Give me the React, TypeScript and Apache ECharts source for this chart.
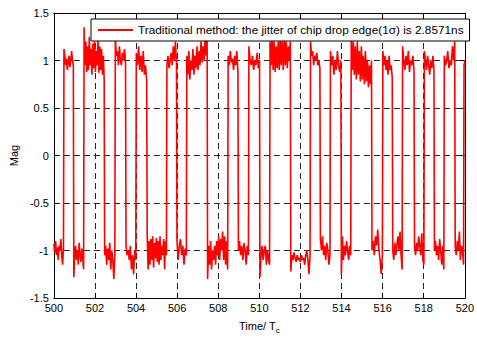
import React, { useEffect, useRef } from "react";
import * as echarts from "echarts";

// Edge times (Tc) between consecutive chip levels
const edges: number[] = [
  500, 500.48, 500.96, 501.46, 502.46, 502.98, 503.5, 504.0, 504.53, 505.49,
  505.98, 506.46, 507.47, 508.47, 508.97, 509.48, 510.02, 510.51, 511.52,
  512.48, 512.96, 513.45, 513.98, 514.46, 515.47, 516.0, 516.48, 516.96,
  517.54, 518.02, 518.51, 518.99, 519.52, 519.95, 520,
];

// Magnitude samples read within each segment (low/high alternating)
const segmentValues: number[][] = [
  [-0.93, -1.02, -0.9, -1.05, -0.97, -1.1, -0.95, -1.0, -0.88, -1.05, -1.15, -0.98],
  [1.12, 1.05, 0.95, 1.02, 0.9, 0.98, 1.05, 0.93, 1.0, 1.1, 1.0, 0.95],
  [-1.28, -1.05, -0.95, -1.1, -1.0, -1.15, -0.92, -1.05, -1.12, -0.98, -1.08, -1.2],
  [1.35, 0.95, 1.2, 0.88, 1.15, 0.9, 1.25, 0.95, 1.12, 0.85, 1.18, 0.92, 1.2, 0.88, 1.1, 0.95, 1.22, 0.87, 1.15, 0.9, 1.12, 0.85, 1.05, 0.82],
  [-1.05, -0.95, -1.15, -0.98, -1.1, -0.92, -1.2, -1.0, -1.1, -1.3, -1.05],
  [1.25, 1.05, 1.1, 0.95, 1.15, 1.0, 0.95, 1.08, 1.0, 1.12, 0.98],
  [-0.95, -1.05, -1.0, -1.1, -0.95, -1.2, -1.05, -1.25, -1.0, -1.1],
  [1.08, 0.95, 1.15, 0.9, 1.05, 0.88, 1.1, 0.85, 0.95, 0.78],
  [-0.82, -1.2, -0.9, -1.15, -0.88, -1.1, -0.85, -1.18, -0.92, -1.08, -0.87, -1.12, -0.9, -1.15, -0.85, -1.1, -0.95, -1.05, -0.88, -1.2, -0.9, -1.05],
  [0.95, 1.05, 0.92, 1.0, 1.08, 0.95, 1.15, 1.0, 1.2, 0.98],
  [-0.9, -1.1, -0.95, -0.88, -1.05, -0.95, -1.15, -0.98, -1.05],
  [1.05, 0.85, 1.1, 0.8, 1.0, 0.9, 1.12, 0.85, 1.05, 0.92, 1.15, 0.9, 1.1, 0.95, 1.2, 0.98, 1.15, 1.0, 1.25, 1.05, 1.3],
  [-1.3, -0.95, -1.15, -0.9, -1.2, -1.0, -1.1, -0.95, -1.15, -0.9, -1.05, -0.85, -1.1, -0.88, -1.0, -0.8, -1.1, -0.85, -1.15, -0.9, -1.2],
  [1.05, 0.95, 1.1, 0.98, 1.02, 0.9, 1.05, 0.95, 1.1, 0.88],
  [-1.0, -0.9, -1.05, -0.95, -1.1, -0.92, -1.0, -1.15, -0.95, -1.05],
  [1.15, 1.0, 0.95, 1.05, 0.9, 1.0, 0.95, 1.08, 0.92, 1.0],
  [-1.28, -1.05, -0.95, -1.1, -1.0, -0.95, -1.15, -1.0, -1.1, -1.15],
  [1.2, 0.95, 1.25, 0.9, 1.2, 0.88, 1.15, 0.92, 1.2, 0.9, 1.25, 0.95, 1.2, 0.9, 1.25, 0.95, 1.2, 0.92, 1.15, 1.0, 1.2],
  [-1.22, -1.05, -1.1, -1.02, -1.08, -1.12, -1.05, -1.1, -1.08, -1.12, -1.05, -1.1, -1.08, -1.15, -1.05, -1.0, -1.1, -1.25, -1.05],
  [1.2, 1.05, 1.1, 0.95, 1.05, 1.0, 1.08, 0.95, 1.0, 0.92],
  [-0.88, -1.0, -0.85, -1.05, -0.95, -1.1, -0.92, -1.0, -1.15, -1.05],
  [1.1, 0.95, 1.05, 0.85, 1.0, 0.9, 1.1, 0.95, 0.88, 1.0],
  [-1.25, -0.85, -1.1, -0.95, -1.05, -0.9, -1.0, -1.1, -0.95, -1.05],
  [1.25, 0.9, 1.2, 0.85, 1.15, 0.8, 1.2, 0.85, 1.1, 0.78, 1.15, 0.8, 1.05, 0.75, 1.1, 0.78, 1.0, 0.72, 0.95, 0.75, 1.0],
  [-1.0, -0.9, -1.05, -0.85, -0.95, -0.78, -1.0, -1.1, -1.25, -1.05],
  [1.1, 0.95, 1.05, 0.9, 1.0, 0.85, 1.05, 0.9, 0.95, 0.82],
  [-1.0, -1.1, -0.92, -1.05, -0.95, -0.85, -1.0, -0.8, -1.05, -1.2],
  [1.15, 1.0, 0.9, 1.05, 0.95, 1.1, 0.88, 1.0, 0.95, 1.05, 0.9],
  [-0.95, -1.05, -0.92, -1.0, -0.85, -0.95, -1.05, -0.82, -1.1, -1.15],
  [1.1, 1.0, 0.9, 1.05, 0.95, 0.85, 1.0, 0.92, 1.05, 0.9],
  [-1.0, -0.9, -1.05, -0.95, -1.1, -0.88, -1.0, -1.15, -0.95, -1.2],
  [1.05, 0.95, 1.0, 1.1, 0.92, 1.0, 0.95, 1.15, 1.0, 1.2],
  [-0.95, -1.05, -0.9, -1.0, -0.8, -1.1, -0.95, -1.0, -1.15],
  [0.95, 1.0],
];

const xTicks = { min: 500, max: 520, interval: 2 };
const yTicks = { min: -1.5, max: 1.5, interval: 0.5 };
const seriesName = "Traditional method: the jitter of chip drop edge(1\u03c3) is 2.8571ns";

function buildData(): [number, number][] {
  const out: [number, number][] = [];
  const pad = 0.012;
  for (let i = 0; i < segmentValues.length; i++) {
    const vals = segmentValues[i];
    const s = edges[i] + (i === 0 ? 0 : pad);
    const e = edges[i + 1] - (i === segmentValues.length - 1 ? 0 : pad);
    const n = vals.length;
    for (let k = 0; k < n; k++) {
      const t = n === 1 ? s : s + ((e - s) * k) / (n - 1);
      out.push([t, vals[k]]);
    }
  }
  return out;
}

const FONT = "Liberation Sans, Arial, sans-serif";

export default function App() {
  const ref = useRef<HTMLDivElement>(null);
  useEffect(() => {
    document.body.style.margin = "0";
    if (!ref.current) return;
    const chart = echarts.init(ref.current, undefined, { renderer: "svg" });
    const axisCommon = {
      type: "value" as const,
      axisLine: { show: true, onZero: false, lineStyle: { color: "#000", width: 1 } },
      axisTick: { show: true, inside: true, length: 5, lineStyle: { color: "#000" } },
    };
    chart.setOption({
      animation: false,
      backgroundColor: "#fff",
      grid: { left: 53, right: 9, top: 13, bottom: 35, containLabel: false },
      legend: {
        data: [seriesName],
        left: 91,
        top: 19,
        orient: "horizontal",
        backgroundColor: "#fff",
        borderColor: "#000",
        borderWidth: 1,
        padding: [5, 6, 5, 7],
        icon: "rect",
        itemWidth: 35,
        itemHeight: 2,
        itemGap: 5,
        textStyle: { fontFamily: FONT, fontSize: 11.8, color: "#000" },
      },
      xAxis: [
        {
          ...axisCommon,
          position: "bottom",
          ...xTicks,
          name: "Time/ T{sub|c}",
          nameLocation: "middle",
          nameGap: 20,
          nameTextStyle: {
            fontFamily: FONT,
            fontSize: 11,
            color: "#000",
            rich: { sub: { fontFamily: FONT, fontSize: 8, color: "#000", verticalAlign: "bottom", padding: [8, 0, 0, 0] } },
          },
          axisLabel: { fontFamily: FONT, fontSize: 11, color: "#000", margin: 4 },
          splitLine: { show: true, lineStyle: { color: "#222", type: [6, 4], width: 1 } },
        },
        {
          ...axisCommon,
          position: "top",
          ...xTicks,
          axisLabel: { show: false },
          splitLine: { show: false },
        },
      ],
      yAxis: [
        {
          ...axisCommon,
          position: "left",
          ...yTicks,
          name: "Mag",
          nameLocation: "middle",
          nameGap: 33,
          nameTextStyle: { fontFamily: FONT, fontSize: 11, color: "#000" },
          axisLabel: { fontFamily: FONT, fontSize: 11, color: "#000", margin: 5 },
          splitLine: { show: true, lineStyle: { color: "#222", type: [6, 4], width: 1 } },
        },
        {
          ...axisCommon,
          position: "right",
          ...yTicks,
          axisLabel: { show: false },
          splitLine: { show: false },
        },
      ],
      series: [
        {
          name: seriesName,
          type: "line",
          data: buildData(),
          symbol: "none",
          showSymbol: false,
          clip: true,
          lineStyle: { color: "#ff0000", width: 1.6 },
          itemStyle: { color: "#ff0000" },
          z: 3,
        },
      ],
    });
    return () => chart.dispose();
  }, []);
  return <div ref={ref} style={{ width: 477, height: 339 }} />;
}
